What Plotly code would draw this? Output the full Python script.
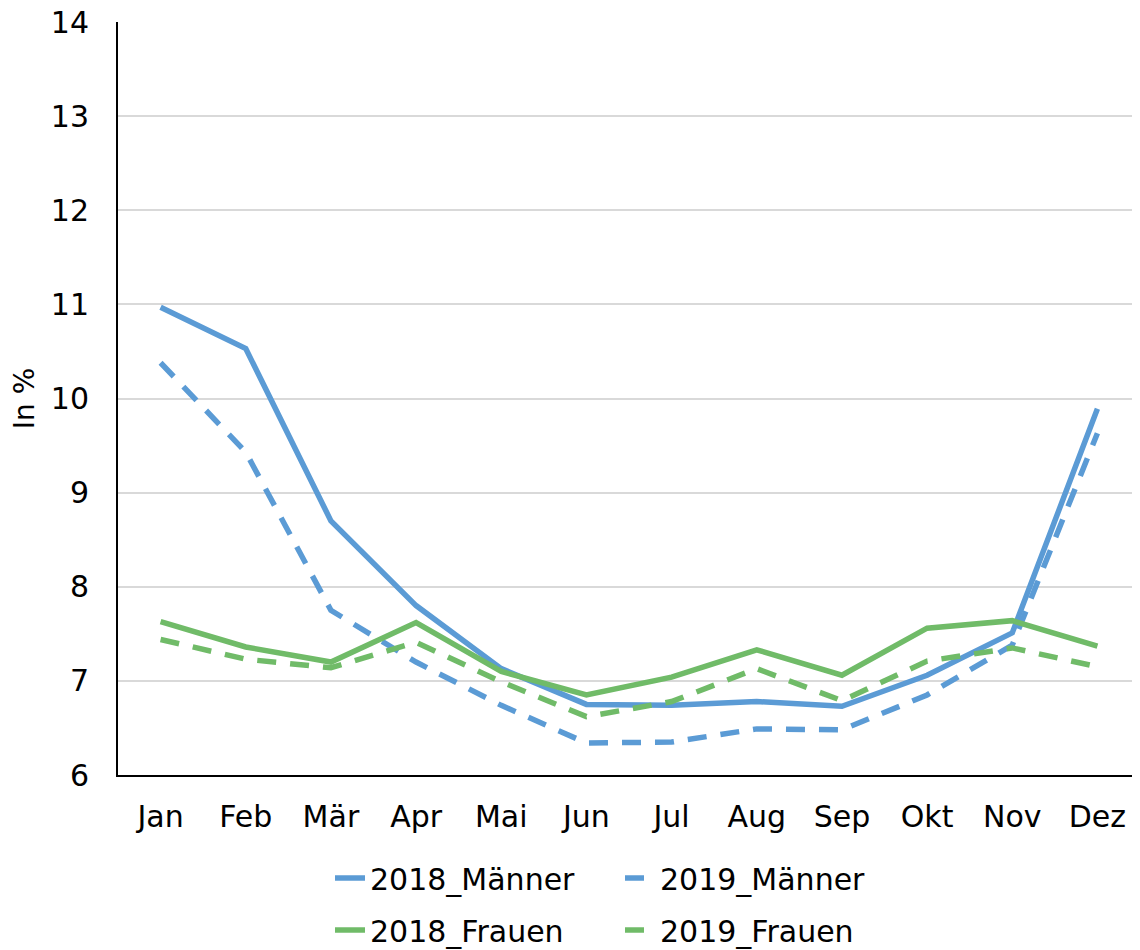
import plotly.graph_objects as go

# Data
months = ['Jan', 'Feb', 'Mär', 'Apr', 'Mai', 'Jun', 'Jul', 'Aug', 'Sep', 'Okt', 'Nov', 'Dez']
maenner_2018 = [10.97, 10.53, 8.70, 7.80, 7.13, 6.75, 6.74, 6.78, 6.73, 7.06, 7.51, 9.89]
maenner_2019 = [10.38, 9.43, 7.75, 7.20, 6.74, 6.34, 6.35, 6.49, 6.48, 6.85, 7.38, 9.63]
frauen_2018 = [7.63, 7.36, 7.20, 7.62, 7.10, 6.85, 7.04, 7.33, 7.06, 7.56, 7.64, 7.37]
frauen_2019 = [7.44, 7.23, 7.14, 7.41, 6.99, 6.62, 6.78, 7.13, 6.79, 7.21, 7.35, 7.15]
y_ticks = [6, 7, 8, 9, 10, 11, 12, 13, 14]

BLUE = '#5b9bd5'
GREEN = '#70bb68'
FONT = 'DejaVu Sans'

# page has an 8px body margin, so the figure is a bit smaller than the window
W, H = 1132, 942

fig = go.Figure()
series = [
    ('2018_Männer', maenner_2018, BLUE, 'solid', 'legend'),
    ('2019_Männer', maenner_2019, BLUE, '19px,14px', 'legend'),
    ('2018_Frauen', frauen_2018, GREEN, 'solid', 'legend2'),
    ('2019_Frauen', frauen_2019, GREEN, '19px,14px', 'legend2'),
]
for name, vals, color, dash, leg in series:
    fig.add_trace(go.Scatter(x=months, y=vals, name=name, mode='lines', legend=leg,
                             line=dict(color=color, width=5.5, dash=dash)))

# Two legend rows, each holding two entries
legend_style = dict(orientation='h', xref='container', x=322 / W, xanchor='left',
                    yref='container', yanchor='middle',
                    entrywidth=245, entrywidthmode='pixels', font=dict(size=30))

fig.update_layout(
    width=W, height=H,
    margin=dict(l=110, r=0, t=14, b=175),
    plot_bgcolor='white', paper_bgcolor='white',
    font=dict(family=FONT, size=30, color='black'),
    showlegend=True,
    legend=dict(legend_style, y=1 - 870 / H),
    legend2=dict(legend_style, y=1 - 922 / H),
)

fig.update_xaxes(showline=True, linecolor='black', linewidth=2, showgrid=False,
                 range=[-0.5, 11.5], ticks='', ticklabelstandoff=14, automargin=False)
fig.update_yaxes(range=[6, 14], tickvals=y_ticks, showline=True, linecolor='black', linewidth=2,
                 showgrid=True, gridcolor='#d9d9d9', gridwidth=2, zeroline=False,
                 ticks='', ticklabelstandoff=21, ticklabeloverflow='allow', automargin=False,
                 title=dict(text='In %', standoff=8, font=dict(size=28)))

fig.write_html('out.html')
